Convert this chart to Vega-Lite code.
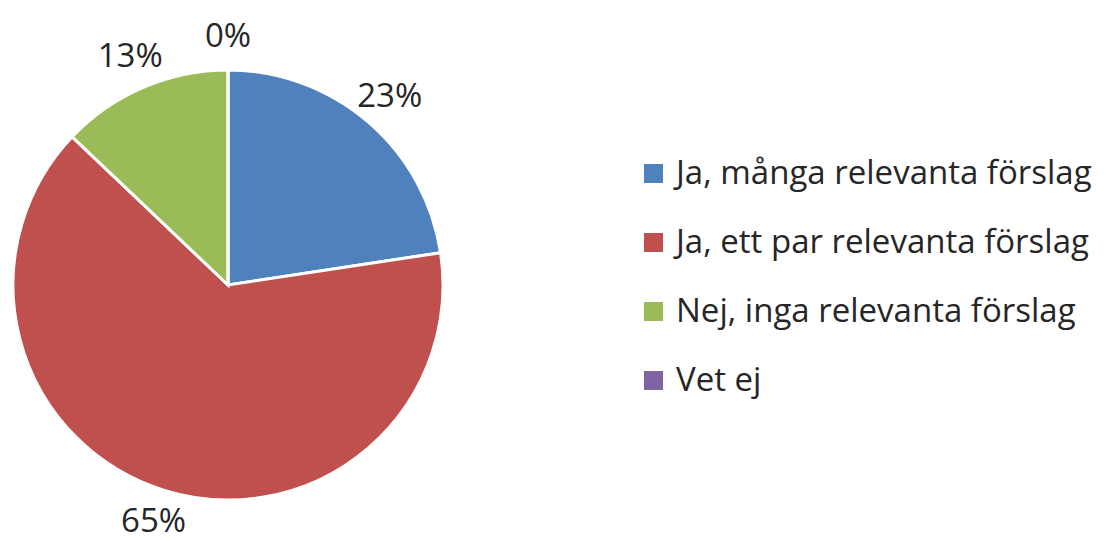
{
  "$schema": "https://vega.github.io/schema/vega-lite/v6.json",
  "width": 456,
  "height": 514,
  "autosize": {"type": "none"},
  "padding": {"left": 0, "top": 28, "right": 657, "bottom": 0},
  "background": "white",
  "config": {"view": {"stroke": null}, "font": "Open Sans"},
  "data": {
    "values": [
      {"answer": "Ja, många relevanta förslag", "share": 22.6, "label": "23%", "order": 1},
      {"answer": "Ja, ett par relevanta förslag", "share": 64.5, "label": "65%", "order": 2},
      {"answer": "Nej, inga relevanta förslag", "share": 12.9, "label": "13%", "order": 3},
      {"answer": "Vet ej", "share": 0, "label": "0%", "order": 4}
    ]
  },
  "encoding": {
    "theta": {"field": "share", "type": "quantitative", "stack": true},
    "order": {"field": "order", "type": "quantitative"},
    "color": {
      "field": "answer",
      "type": "nominal",
      "sort": ["Ja, många relevanta förslag", "Ja, ett par relevanta förslag", "Nej, inga relevanta förslag", "Vet ej"],
      "scale": {
        "domain": ["Ja, många relevanta förslag", "Ja, ett par relevanta förslag", "Nej, inga relevanta förslag", "Vet ej"],
        "range": ["#4F81BD", "#C0504D", "#9BBB59", "#8064A2"]
      },
      "legend": {
        "title": null,
        "orient": "none",
        "legendX": 637,
        "legendY": 129,
        "symbolType": "square",
        "symbolSize": 361,
        "symbolStrokeWidth": 0,
        "labelFontSize": 33,
        "labelColor": "#262626",
        "labelOffset": 6,
        "rowPadding": 35,
        "labelLimit": 600
      }
    }
  },
  "layer": [
    {
      "mark": {"type": "arc", "outerRadius": 215, "stroke": "white", "strokeWidth": 3}
    },
    {
      "mark": {"type": "text", "radius": 248, "fontSize": 33, "color": "#262626", "align": "center", "baseline": "middle"},
      "encoding": {
        "text": {"field": "label", "type": "nominal"},
        "color": {"value": "#262626"}
      }
    }
  ]
}
